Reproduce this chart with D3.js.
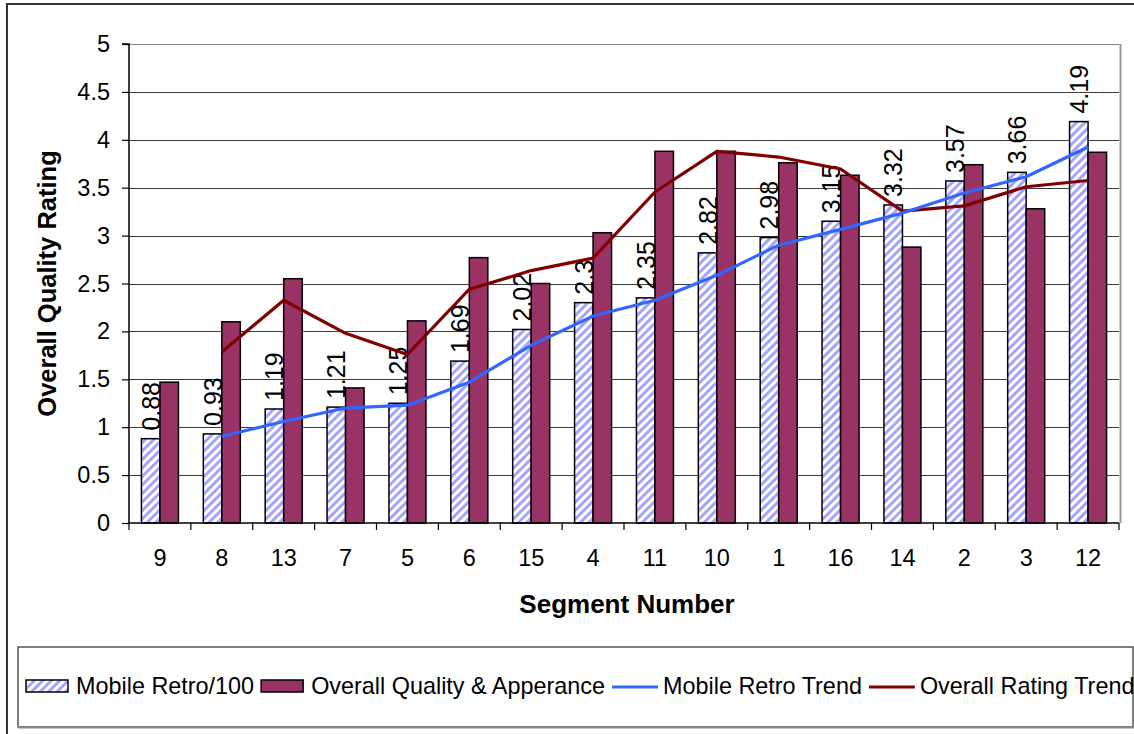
<!DOCTYPE html>
<html>
<head>
<meta charset="utf-8">
<script src="https://cdn.jsdelivr.net/npm/d3@7"></script>
<style>
  html, body { margin: 0; padding: 0; background: #fff; }
  svg { display: block; font-family: "Liberation Sans", Arial, sans-serif; }
</style>
</head>
<body>
<svg id="chart" width="1134" height="734"></svg>
<script>
// Segment order along the x axis
const segments = ["9", "8", "13", "7", "5", "6", "15", "4", "11", "10", "1", "16", "14", "2", "3", "12"];
// Mobile retro reading divided by 100
const mobileRetro = [0.88, 0.93, 1.19, 1.21, 1.25, 1.69, 2.02, 2.3, 2.35, 2.82, 2.98, 3.15, 3.32, 3.57, 3.66, 4.19];
// Overall quality & appearance rating
const overallQuality = [1.47, 2.10, 2.55, 1.41, 2.11, 2.77, 2.50, 3.03, 3.88, 3.88, 3.76, 3.63, 2.88, 3.74, 3.28, 3.87];
const yTicks = [0, 0.5, 1, 1.5, 2, 2.5, 3, 3.5, 4, 4.5, 5];
const legendLabels = ["Mobile Retro/100", "Overall Quality & Apperance", "Mobile Retro Trend", "Overall Rating Trend"];

// Two-period moving average trendline (first point has no value)
function movingAverage(values, period) {
  return values.map((v, i) => {
    if (i < period - 1) return null;
    return d3.mean(values.slice(i - period + 1, i + 1));
  });
}
const retroTrend = movingAverage(mobileRetro, 2);
const overallTrend = movingAverage(overallQuality, 2);

const svg = d3.select("#chart");
const plot = { left: 129, right: 1119, top: 44, bottom: 523 };

const COLORS = {
  stripe: "#a4a4ff",
  bar: "#993366",
  blueLine: "#3366ff",
  redLine: "#800000",
  grid: "#3a3a3a"
};

// Diagonal stripe fill for the retro bars
const defs = svg.append("defs");
const pat = defs.append("pattern")
  .attr("id", "stripes")
  .attr("patternUnits", "userSpaceOnUse")
  .attr("width", 6).attr("height", 6)
  .attr("patternTransform", "rotate(45)");
pat.append("rect").attr("width", 6).attr("height", 6).attr("fill", "#fff");
pat.append("rect").attr("width", 3).attr("height", 6).attr("fill", COLORS.stripe);

// Outer chart border
svg.append("rect")
  .attr("x", 7).attr("y", 4).attr("width", 1160).attr("height", 760)
  .attr("fill", "#fff").attr("stroke", "#333").attr("stroke-width", 2);

const x = d3.scaleBand()
  .domain(segments)
  .range([plot.left, plot.right])
  .paddingInner(0.402)
  .paddingOuter(0.201);
const xSub = d3.scaleBand()
  .domain(["retro", "overall"])
  .range([0, x.bandwidth()]);
const y = d3.scaleLinear().domain([0, 5]).range([plot.bottom, plot.top]);

// Horizontal gridlines
svg.append("g")
  .selectAll("line")
  .data(yTicks.filter(t => t > 0))
  .join("line")
  .attr("x1", plot.left).attr("x2", plot.right)
  .attr("y1", d => Math.round(y(d)) + 0.5).attr("y2", d => Math.round(y(d)) + 0.5)
  .attr("stroke", d => d === 5 ? "#888" : COLORS.grid)
  .attr("stroke-width", 1);

// Plot area right edge
svg.append("line")
  .attr("x1", plot.right + 1.5).attr("x2", plot.right + 1.5)
  .attr("y1", plot.top).attr("y2", plot.bottom)
  .attr("stroke", "#999").attr("stroke-width", 2);

// Bars
const groups = svg.append("g")
  .selectAll("g")
  .data(segments.map((s, i) => ({ s, retro: mobileRetro[i], overall: overallQuality[i] })))
  .join("g")
  .attr("transform", d => `translate(${x(d.s)},0)`);

groups.append("rect")
  .attr("x", xSub("retro"))
  .attr("y", d => y(d.retro))
  .attr("width", xSub.bandwidth())
  .attr("height", d => y(0) - y(d.retro))
  .attr("fill", "url(#stripes)")
  .attr("stroke", "#000").attr("stroke-width", 1.5);

groups.append("rect")
  .attr("x", xSub("overall"))
  .attr("y", d => y(d.overall))
  .attr("width", xSub.bandwidth())
  .attr("height", d => y(0) - y(d.overall))
  .attr("fill", COLORS.bar)
  .attr("stroke", "#000").attr("stroke-width", 1.5);

// Trend lines through the category centres
const line = d3.line()
  .defined(d => d.v != null)
  .x(d => x(d.s) + x.bandwidth() / 2)
  .y(d => y(d.v));

svg.append("path")
  .datum(segments.map((s, i) => ({ s, v: overallTrend[i] })))
  .attr("d", line)
  .attr("fill", "none").attr("stroke", COLORS.redLine).attr("stroke-width", 3.2)
  .attr("stroke-linejoin", "round");

svg.append("path")
  .datum(segments.map((s, i) => ({ s, v: retroTrend[i] })))
  .attr("d", line)
  .attr("fill", "none").attr("stroke", COLORS.blueLine).attr("stroke-width", 3.2)
  .attr("stroke-linejoin", "round");

// Vertical value labels above the retro bars
groups.append("text")
  .attr("transform", d => `translate(${xSub("retro") + xSub.bandwidth() / 2},${y(d.retro) - 8}) rotate(-90)`)
  .attr("dominant-baseline", "central")
  .attr("text-anchor", "start")
  .attr("font-size", 25)
  .attr("fill", "#000")
  .text(d => d.retro);

// Axes
const yAxis = d3.axisLeft(y).tickValues(yTicks).tickSize(7).tickPadding(12)
  .tickFormat(d => d3.format("")(d));
const gy = svg.append("g").attr("transform", `translate(${plot.left},0)`).call(yAxis);
gy.select(".domain").attr("stroke", "#000").attr("stroke-width", 1.5).attr("d", `M-7,${plot.top}H0V${plot.bottom}`);
gy.selectAll(".tick line").attr("stroke", "#000").attr("stroke-width", 1.2);
gy.selectAll(".tick text").attr("font-size", 23.5).attr("fill", "#000").attr("font-family", "Liberation Sans, Arial, sans-serif");

const xAxis = d3.axisBottom(x).tickSize(0).tickPadding(26);
const gx = svg.append("g").attr("transform", `translate(0,${plot.bottom})`).call(xAxis);
gx.select(".domain").attr("stroke", "#000").attr("stroke-width", 1.5).attr("d", `M${plot.left},0H${plot.right}`);
gx.selectAll(".tick text").attr("font-size", 23.5).attr("fill", "#000").attr("font-family", "Liberation Sans, Arial, sans-serif");

// Category boundary ticks
svg.append("g")
  .selectAll("line")
  .data(d3.range(segments.length + 1))
  .join("line")
  .attr("x1", i => plot.left + i * x.step())
  .attr("x2", i => plot.left + i * x.step())
  .attr("y1", plot.bottom).attr("y2", plot.bottom + 7)
  .attr("stroke", "#000").attr("stroke-width", 1.2);

// Axis titles
svg.append("text")
  .attr("transform", `translate(47,${(plot.top + plot.bottom) / 2}) rotate(-90)`)
  .attr("text-anchor", "middle").attr("dominant-baseline", "central")
  .attr("font-size", 25.5).attr("font-weight", "bold")
  .text("Overall Quality Rating");

svg.append("text")
  .attr("x", (plot.left + plot.right) / 2 + 3).attr("y", 604)
  .attr("text-anchor", "middle").attr("dominant-baseline", "central")
  .attr("font-size", 26).attr("font-weight", "bold")
  .text("Segment Number");

// Legend
const legend = svg.append("g");
legend.append("rect")
  .attr("x", 18).attr("y", 647).attr("width", 1115).attr("height", 80)
  .attr("fill", "#fff").attr("stroke", "#555").attr("stroke-width", 1.5);
legend.append("line")
  .attr("x1", 18).attr("x2", 1134).attr("y1", 727.5).attr("y2", 727.5)
  .attr("stroke", "#888").attr("stroke-width", 2);

const legendTypes = ["stripe", "bar", "blue", "red"];
let lx = 26;
const ly = 686;
legendLabels.forEach((label, i) => {
  const kind = legendTypes[i];
  const isBox = kind === "stripe" || kind === "bar";
  if (isBox) {
    legend.append("rect")
      .attr("x", lx).attr("y", ly - 6).attr("width", 42).attr("height", 12)
      .attr("fill", kind === "stripe" ? "url(#stripes)" : COLORS.bar)
      .attr("stroke", "#000").attr("stroke-width", 1.5);
  } else {
    legend.append("line")
      .attr("x1", lx).attr("x2", lx + 46)
      .attr("y1", ly + 1).attr("y2", ly + 1)
      .attr("stroke", kind === "blue" ? COLORS.blueLine : COLORS.redLine)
      .attr("stroke-width", 3);
  }
  const t = legend.append("text")
    .attr("x", lx + (isBox ? 50 : 51))
    .attr("y", ly)
    .attr("dominant-baseline", "central")
    .attr("font-size", 23.4)
    .text(label);
  lx = lx + (isBox ? 50 : 51) + t.node().getComputedTextLength() + 7;
});
</script>
</body>
</html>
